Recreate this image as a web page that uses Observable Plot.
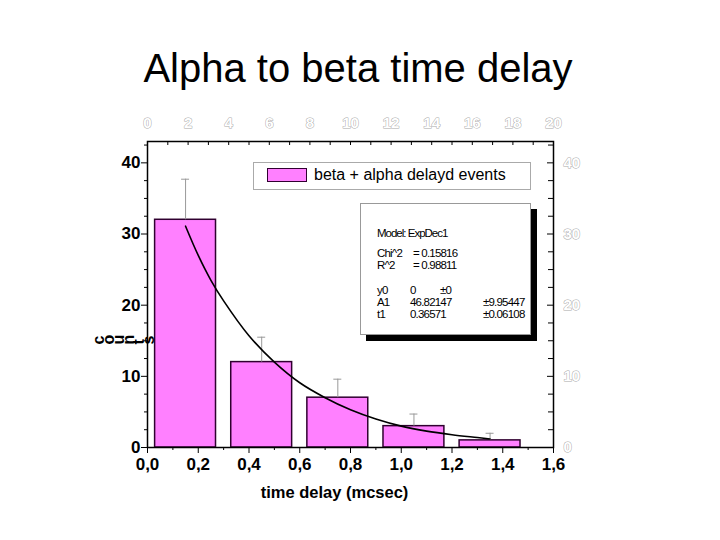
<!DOCTYPE html>
<html>
<head>
<meta charset="utf-8">
<script src="https://cdn.jsdelivr.net/npm/d3@7"></script>
<script src="https://cdn.jsdelivr.net/npm/@observablehq/plot@0.6"></script>
<style>
  html, body { margin: 0; padding: 0; background: #fff; }
  body { font-family: "Liberation Sans", Arial, sans-serif; width: 720px; height: 540px; position: relative; overflow: hidden; }
  #title { position: absolute; left: 0; top: 48px; width: 716px; text-align: center; font-size: 40px; line-height: 40px; color: #000; }
  #chart { position: absolute; left: 0; top: 100px; }
  #legend { position: absolute; left: 253px; top: 162px; width: 278px; height: 28px; border: 1px solid #aaa; background: #fff; box-sizing: border-box; }
  #legend .sw { position: absolute; left: 13px; top: 5px; width: 40px; height: 14px; background: #ff80ff; border: 1.5px solid #300030; box-sizing: border-box; }
  #legend .lt { position: absolute; left: 60px; top: 3px; font-size: 16px; line-height: 18px; white-space: nowrap; }
  #stats { position: absolute; left: 360px; top: 203px; width: 171px; height: 132px; border: 1px solid #999; background: #fff; box-sizing: border-box; box-shadow: 6px 6px 0 #000; font-size: 11.5px; line-height: 12px; }
  #stats div { position: absolute; white-space: nowrap; letter-spacing: -0.8px; }
  g[aria-label="xlabel"] text { letter-spacing: -0.6px; }
</style>
</head>
<body>
<div id="title"></div>
<div id="chart"></div>
<div id="legend"><div class="sw"></div><div class="lt"></div></div>
<div id="stats"></div>
<script>
// ---- data ----
const titleText = "Alpha to beta time delay";
const binStart = [0.03, 0.33, 0.63, 0.93, 1.23];
const binEnd   = [0.27, 0.57, 0.87, 1.17, 1.47];
const counts   = [32, 12, 7, 3, 1];
const errors   = [5.7, 3.5, 2.6, 1.7, 1.0];
const fitX = [0.15, 0.2, 0.25, 0.3, 0.4, 0.5, 0.6, 0.7, 0.8, 0.9, 1.0, 1.1, 1.2, 1.3, 1.35];
const fitY = [31.1, 27.0, 23.5, 20.6, 15.7, 12.0, 9.1, 7.0, 5.3, 4.0, 3.0, 2.3, 1.8, 1.4, 1.2];
const xTicks = [0, 0.2, 0.4, 0.6, 0.8, 1.0, 1.2, 1.4, 1.6];
const xMinorTicks = [0.1, 0.3, 0.5, 0.7, 0.9, 1.1, 1.3, 1.5];
const yTicks = [0, 10, 20, 30, 40];
const yMinorTicks = [2.5, 5, 7.5, 12.5, 15, 17.5, 22.5, 25, 27.5, 32.5, 35, 37.5, 42.5];
const topLabels = [0, 2, 4, 6, 8, 10, 12, 14, 16, 18, 20];
const topTicks = [0,1,2,3,4,5,6,7,8,9,10,11,12,13,14,15,16,17,18,19,20];
const topMax = 20;
const xMax = 1.6;
const yMax = 43;
const yLabelChars = ["c", "o", "u", "n", "t", "s"];
const xLabel = "time delay (mcsec)";
const legendText = "beta + alpha delayd events";
const statsModel = "Model: ExpDec1";
const statsFit = [["Chi^2", "= 0.15816"], ["R^2", "= 0.98811"]];
const statsParams = [["y0", "0", "±0"], ["A1", "46.82147", "±9.95447"], ["t1", "0.36571", "±0.06108"]];

// ---- build ----
document.getElementById("title").textContent = titleText;
document.querySelector("#legend .lt").textContent = legendText;

const stats = document.getElementById("stats");
function addStat(text, left, top, extra) {
  const d = document.createElement("div");
  d.textContent = text; d.style.left = left + "px"; d.style.top = top + "px";
  if (extra) d.style.letterSpacing = extra;
  stats.appendChild(d);
}
addStat(statsModel, 16, 23, "-1px");
statsFit.forEach((r, i) => { addStat(r[0], 16, 43 + i * 12); addStat(r[1], 52, 43 + i * 12); });
statsParams.forEach((r, i) => {
  addStat(r[0], 16, 80 + i * 12);
  addStat(r[1], 49, 80 + i * 12);
  addStat(r[2], i === 0 ? 79 : 122, 80 + i * 12);
});

const bars = counts.map((c, i) => ({x1: binStart[i], x2: binEnd[i], xc: (binStart[i] + binEnd[i]) / 2, y: c, top: c + errors[i]}));
const fit = fitX.map((x, i) => ({x, y: fitY[i]}));

const hollow = {fill: "white", stroke: "#aaa", strokeWidth: 1, fontSize: 15, fontWeight: "bold"};

const plot = Plot.plot({
  width: 720, height: 440,
  marginTop: 41, marginBottom: 93, marginLeft: 147, marginRight: 167,
  style: {fontFamily: "'Liberation Sans', Arial, sans-serif", background: "white", color: "black"},
  x: {domain: [0, xMax]},
  y: {domain: [0, yMax]},
  marks: [
    Plot.rectY(bars, {x1: "x1", x2: "x2", y: "y", fill: "#ff80ff", stroke: "#300030", strokeWidth: 1.5}),
    Plot.ruleX(bars, {x: "xc", y1: "y", y2: "top", stroke: "#999", strokeWidth: 1}),
    Plot.ruleY(bars, {y: "top", x1: "xc", x2: "xc", insetLeft: -4, insetRight: -4, stroke: "#999", strokeWidth: 1}),
    Plot.line(fit, {x: "x", y: "y", stroke: "black", strokeWidth: 1.6, curve: "catmull-rom"}),
    Plot.frame({stroke: "black", strokeWidth: 1.5}),
    // left axis
    Plot.axisY({ticks: yTicks, tickSize: 6, tickPadding: 1, fontSize: 17, fontWeight: "bold", label: null}),
    Plot.axisY({ticks: yMinorTicks, tickSize: 3, fill: "none", label: null}),
    // bottom axis
    Plot.axisX({ticks: xTicks, tickSize: 6, tickPadding: 4, fontSize: 17, fontWeight: "bold", label: null,
      tickFormat: d => d.toFixed(1).replace(".", ",")}),
    Plot.axisX({ticks: xMinorTicks, tickSize: 3, fill: "none", label: null}),
    // right axis (inward ticks)
    Plot.axisY({anchor: "left", frameAnchor: "right", ticks: yTicks, tickSize: 6, fill: "none", label: null}),
    Plot.axisY({anchor: "left", frameAnchor: "right", ticks: yMinorTicks, tickSize: 5, fill: "none", label: null}),
    Plot.text(yTicks, {y: d => d, frameAnchor: "right", dx: 10, textAnchor: "start", text: d => String(d), ...hollow}),
    // top axis (inward ticks)
    Plot.axisX({anchor: "bottom", frameAnchor: "top", ticks: topTicks.map(t => t / topMax * xMax), tickSize: 4, fill: "none", label: null}),
    Plot.text(topLabels, {x: t => t / topMax * xMax, frameAnchor: "top", dy: -24, text: t => String(t), ...hollow}),
    // axis titles
    Plot.text([xLabel], {frameAnchor: "bottom", dy: 50, dx: -16, text: d => d, fontSize: 16.5, fontWeight: "bold", ariaLabel: "xlabel"}),
    ...yLabelChars.map((c, i) => Plot.text([c], {frameAnchor: "left", dx: -49 + i * 10, dy: 50, rotate: -90, text: d => d, fontSize: 16, fontWeight: "bold"}))
  ]
});
document.getElementById("chart").appendChild(plot);
</script>
</body>
</html>
